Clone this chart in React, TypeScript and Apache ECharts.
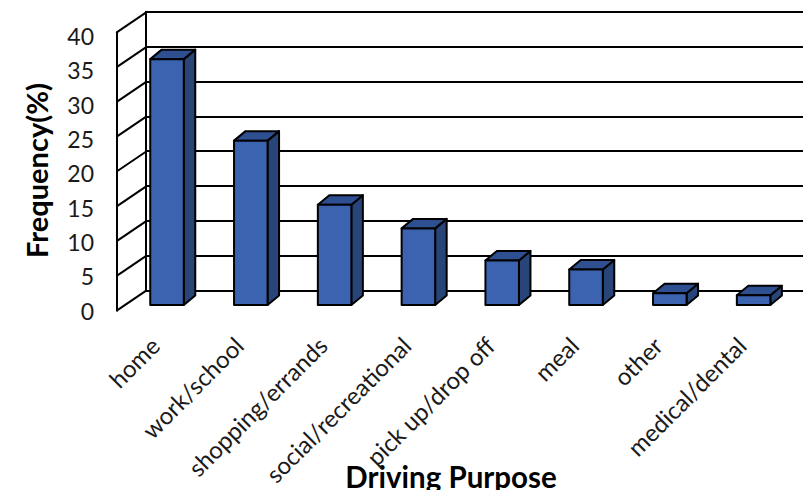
import React, { useEffect, useRef } from "react";
import * as echarts from "echarts";

const categories = [
  "home",
  "work/school",
  "shopping/errands",
  "social/recreational",
  "pick up/drop off",
  "meal",
  "other",
  "medical/dental",
];
const frequencies = [35.3, 23.6, 14.4, 11.0, 6.4, 5.1, 1.7, 1.4];
const yTicks = [0, 5, 10, 15, 20, 25, 30, 35, 40];
const yMin = 0;
const yMax = 40;
const yStep = 5;
const xTitle = "Driving Purpose";
const yTitle = "Frequency(%)";

const FONT = 'Lato, "Open Sans", sans-serif';
const FRONT = "#3C63B0";
const SIDE = "#284579";
const TOP = "#2E4F90";
const EDGE = "#000";

export default function App() {
  const ref = useRef<HTMLDivElement>(null);

  useEffect(() => {
    document.body.style.margin = "0";
    document.body.style.background = "#fff";
    const chart = echarts.init(ref.current!, null, { renderer: "svg" });
    const wallDx = 29.5;
    const wallDy = -20;
    const barDx = 11.5;
    const barDy = -9.5;

    const renderBar = (params: any, api: any) => {
      const i = api.value(0);
      const v = api.value(1);
      const top = api.coord([i, v]);
      const base = api.coord([i, 0]);
      const w = api.size([1, 0])[0] * 0.4;
      const x0 = top[0] - w / 2;
      const x1 = top[0] + w / 2;
      const yt = top[1];
      const yb = base[1];
      const st = { stroke: EDGE, lineWidth: 2, lineJoin: "round" };
      return {
        type: "group",
        children: [
          {
            type: "polygon",
            shape: { points: [[x1, yt], [x1 + barDx, yt + barDy], [x1 + barDx, yb + barDy], [x1, yb]] },
            style: { fill: SIDE, ...st },
          },
          {
            type: "polygon",
            shape: { points: [[x0, yt], [x0 + barDx, yt + barDy], [x1 + barDx, yt + barDy], [x1, yt]] },
            style: { fill: TOP, ...st },
          },
          {
            type: "rect",
            shape: { x: x0, y: yt, width: w, height: yb - yt },
            style: { fill: FRONT, ...st },
          },
        ],
      };
    };

    const renderDiag = (params: any, api: any) => {
      const p = api.coord([0, api.value(1)]);
      return {
        type: "line",
        shape: { x1: p[0], y1: p[1], x2: p[0] + wallDx, y2: p[1] + wallDy },
        style: { stroke: EDGE, lineWidth: 2 },
      };
    };

    const hiddenX = (g: number) => ({ gridIndex: g, type: "value", min: 0, max: 1, show: false });
    const baseY = { type: "value", min: yMin, max: yMax, interval: yStep };

    chart.setOption({
      animation: false,
      backgroundColor: "#fff",
      grid: [
        { left: 125.1, right: 7.5, top: 26.4, bottom: 185 },
        { left: 146, right: 0, top: 11.7, bottom: 199.3 },
        { left: 116.7, width: 30, top: 32.3, bottom: 179.3 },
        { left: 117, width: 30, top: 36, bottom: 179.3 },
      ],
      xAxis: [
        {
          gridIndex: 0,
          type: "category",
          data: categories,
          axisLine: { show: false },
          axisTick: { show: false },
          axisLabel: {
            rotate: 45,
            margin: 24,
            interval: 0,
            padding: [0, 17, 0, 0],
            fontSize: 24,
            fontFamily: FONT,
            color: "#1a1a1a",
          },
        },
        hiddenX(1),
        hiddenX(2),
        hiddenX(3),
      ],
      yAxis: [
        { gridIndex: 0, ...baseY, show: false },
        {
          gridIndex: 1,
          ...baseY,
          axisLine: { show: true, lineStyle: { color: EDGE, width: 2 } },
          axisTick: { show: false },
          axisLabel: { show: false },
          splitLine: { show: true, lineStyle: { color: EDGE, width: 2 } },
        },
        {
          gridIndex: 2,
          ...baseY,
          axisLine: { show: true, lineStyle: { color: EDGE, width: 2 } },
          axisTick: { show: false },
          axisLabel: { show: false },
          splitLine: { show: false },
        },
        {
          gridIndex: 3,
          ...baseY,
          axisLine: { show: false },
          axisTick: { show: false },
          splitLine: { show: false },
          axisLabel: { show: true, margin: 23, fontSize: 23, fontFamily: FONT, color: "#1a1a1a" },
        },
      ],
      series: [
        {
          type: "custom",
          xAxisIndex: 2,
          yAxisIndex: 2,
          data: yTicks.map((v) => [0, v]),
          renderItem: renderDiag,
          silent: true,
        },
        {
          type: "custom",
          xAxisIndex: 0,
          yAxisIndex: 0,
          data: frequencies.map((v, i) => [i, v]),
          renderItem: renderBar,
        },
      ],
      graphic: [
        {
          type: "text",
          x: 36,
          y: 170.5,
          rotation: Math.PI / 2,
          style: {
            text: yTitle,
            fontSize: 29,
            fontWeight: "bold",
            fontFamily: FONT,
            fill: "#000",
            align: "center",
            verticalAlign: "middle",
          },
        },
        {
          type: "text",
          x: 451,
          y: 476,
          style: {
            text: xTitle,
            fontSize: 29.5,
            fontWeight: "bold",
            fontFamily: FONT,
            fill: "#000",
            align: "center",
            verticalAlign: "middle",
          },
        },
      ],
    });
    return () => chart.dispose();
  }, []);

  return <div ref={ref} style={{ position: "absolute", left: 0, top: 0, width: 803, height: 490 }} />;
}
